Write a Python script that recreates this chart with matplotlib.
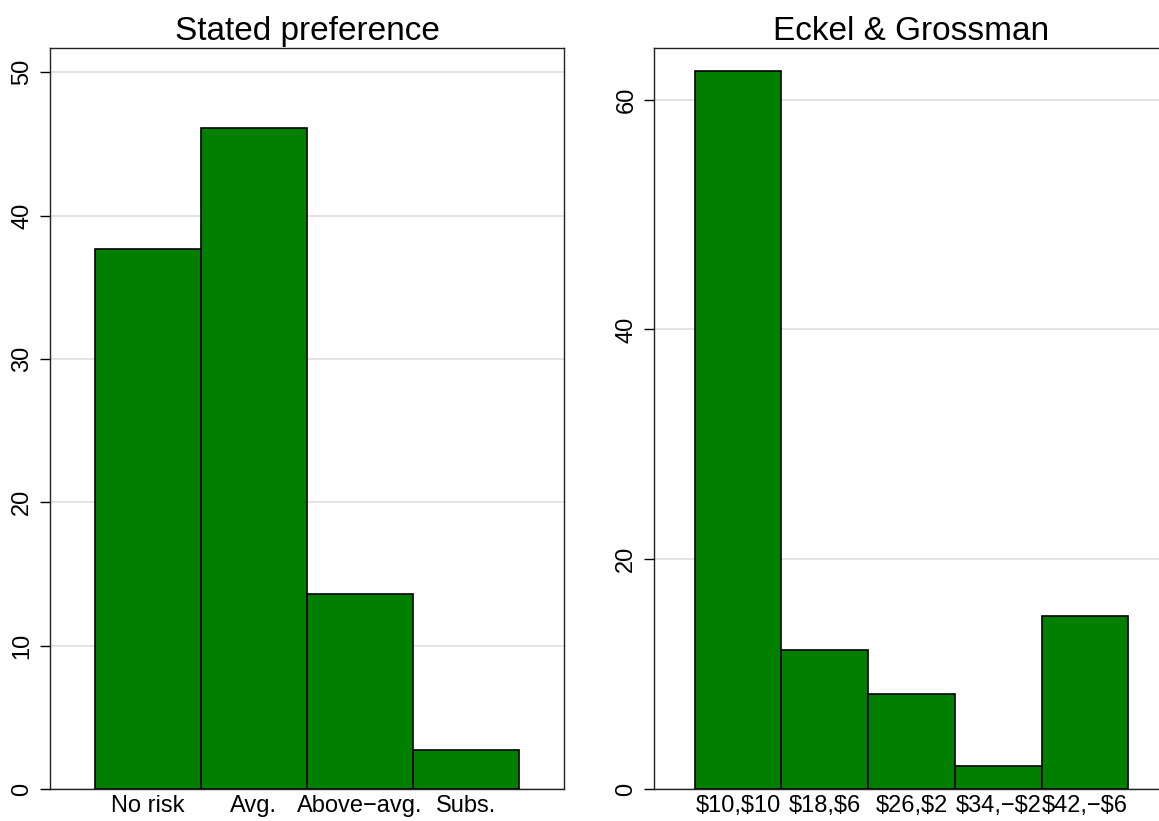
import matplotlib
matplotlib.use("Agg")
import matplotlib.pyplot as plt

plt.rcParams['font.family'] = ['Liberation Sans', 'DejaVu Sans']

# stated preference shares (%)
stated_labels = ["No risk", "Avg.", "Above\u2212avg.", "Subs."]
stated_values = [37.7, 46.1, 13.6, 2.75]

# Eckel & Grossman gamble choices (%)
eg_labels = ["\\$10,\\$10", "\\$18,\\$6", "\\$26,\\$2", "\\$34,\u2212\\$2", "\\$42,\u2212\\$6"]
eg_values = [62.5, 12.1, 8.3, 2.0, 15.1]

bar_color = "#007f00"
W, H = 1159, 821

fig = plt.figure(figsize=(W / 100, H / 100), dpi=100)
ax1 = fig.add_axes([50 / W, 32 / H, 514 / W, 741 / H])
ax2 = fig.add_axes([654 / W, 32 / H, 515 / W, 741 / H])

def style(ax, labels, values, ticks, ylim, xlim, title):
    x = list(range(1, len(values) + 1))
    ax.bar(x, values, width=1.0, color=bar_color, edgecolor="black", linewidth=1.2, zorder=3)
    ax.set_xticks(x)
    ax.set_xticklabels(labels)
    ax.set_yticks(ticks)
    ax.set_ylim(*ylim)
    ax.set_xlim(*xlim)
    ax.yaxis.grid(True, color="#e2e2e2", linewidth=1.3, zorder=0)
    ax.set_axisbelow(True)
    ax.tick_params(axis="x", length=0, pad=4, labelsize=17)
    ax.tick_params(axis="y", length=7, width=1, pad=5, labelsize=17, labelrotation=90)
    for lab in ax.get_yticklabels():
        lab.set_va("center")
    for s in ax.spines.values():
        s.set_linewidth(1.0)
        s.set_color("#222222")
    ax.set_title(title, fontsize=24, pad=6)

style(ax1, stated_labels, stated_values, [0, 10, 20, 30, 40, 50], (0, 51.7), (0.08, 4.92), "Stated preference")
style(ax2, eg_labels, eg_values, [0, 20, 40, 60], (0, 64.5), (0.03, 5.97), "Eckel & Grossman")

fig.savefig("out.png", dpi=100)
